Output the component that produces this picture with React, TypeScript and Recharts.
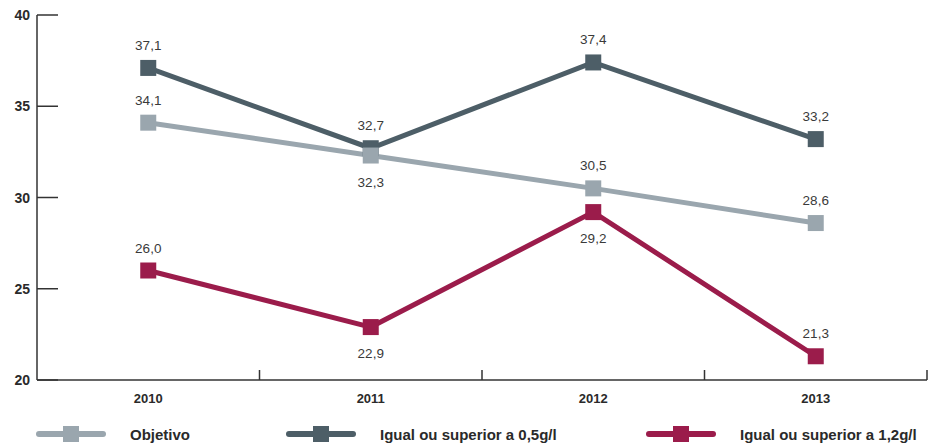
import React from 'react';
import { LineChart, Line, XAxis, YAxis } from 'recharts';

const years = ['2010', '2011', '2012', '2013'];
const objetivo = [34.1, 32.3, 30.5, 28.6];
const igual05 = [37.1, 32.7, 37.4, 33.2];
const igual12 = [26.0, 22.9, 29.2, 21.3];
const yTicks = [20, 25, 30, 35, 40];

// where each value label sits relative to its point
const objetivoPos = ['top', 'bottom', 'top', 'top'];
const igual05Pos = ['top', 'top', 'top', 'top'];
const igual12Pos = ['top', 'bottom', 'bottom', 'top'];

const seriesNames = ['Objetivo', 'Igual ou superior a 0,5g/l', 'Igual ou superior a 1,2g/l'];

const data = years.map((year, i) => ({
  year,
  objetivo: objetivo[i],
  igual05: igual05[i],
  igual12: igual12[i],
}));

const C_OBJ = '#9aa6ae';
const C_05 = '#4d5e67';
const C_12 = '#9b1c4b';
const FONT = '"Liberation Sans", Arial, sans-serif';
const X_TICK_GAP = 14;

const fmt = (v: number) => v.toFixed(1).replace('.', ',');

const squareDot = (color: string) => (props: any) => {
  const { cx, cy, index } = props;
  return <rect key={index} x={cx - 8} y={cy - 8} width={16} height={16} fill={color} />;
};

const valueLabel = (positions: string[]) => (props: any) => {
  const { x, y, value, index } = props;
  const below = positions[index] === 'bottom';
  return (
    <text
      key={index}
      x={x}
      y={below ? y + 31 : y - 18}
      textAnchor="middle"
      fontSize={13.5}
      fontFamily={FONT}
      fill="#3a3a3a"
    >
      {fmt(value)}
    </text>
  );
};

const YTick = (props: any) => {
  const { x, y, payload } = props;
  return (
    <g>
      <text x={x} y={y + 5} textAnchor="end" fontSize={14} fontWeight="bold" fontFamily={FONT} fill="#2a2a2a">
        {payload.value}
      </text>
      <line x1={x + 7} x2={x + 28} y1={y} y2={y} stroke="#333" strokeWidth={1.5} />
    </g>
  );
};

// year label plus an upward tick mark at the right edge of its band
const XTick = (props: any) => {
  const { x, y, payload } = props;
  const edge = x + (payload.offset || 0);
  const axisY = y - X_TICK_GAP;
  return (
    <g>
      <text x={x} y={y} dy="0.71em" textAnchor="middle" fontSize={13} fontWeight="bold" fontFamily={FONT} fill="#2a2a2a">
        {payload.value}
      </text>
      <line x1={edge} x2={edge} y1={axisY - 10} y2={axisY} stroke="#333" strokeWidth={1.5} />
    </g>
  );
};

const LegendIcon = ({ color }: { color: string }) => (
  <svg width={72} height={18} style={{ display: 'block' }}>
    <line x1={4} x2={68} y1={9} y2={9} stroke={color} strokeWidth={6} strokeLinecap="round" />
    <rect x={28} y={1} width={16} height={16} fill={color} />
  </svg>
);

const legendColors = [C_OBJ, C_05, C_12];
const legendWidths = [250, 360, 280];

export default function App() {
  return (
    <div style={{ position: 'absolute', left: 0, top: 0, width: 929, height: 444, background: '#fff' }}>
      <LineChart width={929} height={444} data={data} margin={{ top: 15, right: 2, left: 0, bottom: 34 }}>
        <XAxis
          dataKey="year"
          scale="band"
          height={30}
          tickLine={false}
          tickSize={0}
          tickMargin={X_TICK_GAP}
          axisLine={{ stroke: '#333', strokeWidth: 1.5 }}
          tick={<XTick />}
        />
        <YAxis
          domain={[20, 40]}
          ticks={yTicks}
          width={37}
          tickSize={0}
          tickMargin={7}
          tick={<YTick />}
          axisLine={{ stroke: '#333', strokeWidth: 1.5 }}
        />
        <Line
          dataKey="igual05"
          name={seriesNames[1]}
          stroke={C_05}
          strokeWidth={5}
          dot={squareDot(C_05)}
          activeDot={false}
          label={valueLabel(igual05Pos)}
          isAnimationActive={false}
        />
        <Line
          dataKey="objetivo"
          name={seriesNames[0]}
          stroke={C_OBJ}
          strokeWidth={5}
          dot={squareDot(C_OBJ)}
          activeDot={false}
          label={valueLabel(objetivoPos)}
          isAnimationActive={false}
        />
        <Line
          dataKey="igual12"
          name={seriesNames[2]}
          stroke={C_12}
          strokeWidth={5}
          dot={squareDot(C_12)}
          activeDot={false}
          label={valueLabel(igual12Pos)}
          isAnimationActive={false}
        />
      </LineChart>
      <div style={{ position: 'absolute', left: 35, top: 425, display: 'flex', fontFamily: FONT }}>
        {seriesNames.map((name, i) => (
          <div key={name} style={{ width: legendWidths[i], display: 'flex', alignItems: 'center' }}>
            <LegendIcon color={legendColors[i]} />
            <span style={{ marginLeft: 23, fontSize: 15, fontWeight: 'bold', color: '#2a2a2a' }}>{name}</span>
          </div>
        ))}
      </div>
    </div>
  );
}
